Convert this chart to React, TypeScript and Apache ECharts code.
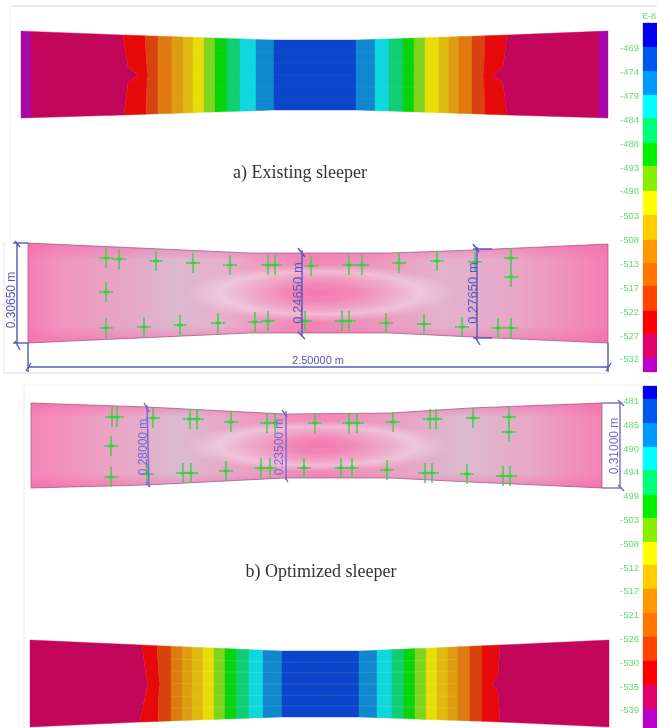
import React, { useEffect, useRef } from "react";
import * as echarts from "echarts";

type Pt = [number, number];
type Edge = number | number[];

// ---- sleeper outlines: [x, top, bottom]
const outlineExistingContour = [[21, 31, 118], [123, 35, 115], [275, 40, 110], [356, 40, 110], [507, 35, 115], [608, 31, 118]];
const outlineExistingPink = [[28, 243, 343], [250, 253, 333], [390, 253, 333], [473, 250, 337], [608, 244, 343]];
const outlineOptimizedPink = [[31, 403, 488], [147, 407, 485], [285, 414, 478], [390, 413, 478], [470, 408, 482], [602, 403, 488]];
const outlineOptimizedContour = [[30, 640, 727], [142, 645, 722], [282, 651, 717], [359, 651, 717], [500, 645, 722], [609, 640, 727]];

// ---- contour band colours, left to right
const bandColors = ["#c2065a", "#e60a0a", "#d8420f", "#de7a10", "#dd9c12", "#e0ba10", "#e8dc08", "#7ed41e", "#08d40c", "#10cf72", "#10d6de", "#1088d0", "#0a45cc"];
const purple = "#a808a8";

// band edges (x), each either straight or bent at five heights
const edgesExisting: Edge[] = [31, [123, 128, 138, 128, 124], [145, 147, 148, 147, 146], 158, 172, 183, 193, 204, 215, 227, 240, 256, 274, 356, 375, 389, 403, 414, 425, 439, 449, 459, 472, [485, 484, 483, 484, 485], [507, 503, 493, 503, 507], 599];
const edgesOptimized: Edge[] = [[142, 146, 148, 146, 140], [157, 159, 160, 159, 158], 171, 182, 192, 203, 214, 225, 236, 249, 263, 282, 359, 377, 392, 404, 415, 426, 437, 448, 458, 470, 482, [500, 498, 492, 498, 500]];

// ---- green plus marks
const crossesExisting: Pt[] = [[106, 258], [119, 259], [156, 261], [193, 263], [230, 265], [268, 265], [275, 265], [311, 266], [349, 265], [362, 265], [399, 263], [437, 261], [475, 262], [511, 258], [511, 277], [106, 292], [106, 328], [144, 327], [180, 325], [218, 323], [255, 322], [268, 321], [305, 321], [342, 321], [349, 321], [386, 323], [424, 324], [462, 327], [498, 328], [511, 328]];
const crossesOptimized: Pt[] = [[112, 417], [117, 417], [153, 418], [190, 419], [197, 419], [231, 422], [267, 423], [275, 423], [315, 423], [349, 423], [357, 423], [393, 422], [430, 419], [436, 419], [473, 418], [509, 417], [509, 432], [111, 446], [111, 477], [147, 474], [183, 473], [191, 473], [226, 471], [261, 468], [270, 468], [304, 468], [341, 468], [352, 468], [387, 470], [425, 473], [432, 473], [467, 474], [503, 476], [510, 476]];

// ---- pink field colours along the sleeper
const pinkExisting: [number, string][] = [[28, "#f57db3"], [60, "#f094bf"], [130, "#e5a8c8"], [175, "#dcb8cf"], [220, "#e7b0cb"], [260, "#ee9cc0"], [310, "#f184b6"], [370, "#ef93bd"], [440, "#e3b2cc"], [480, "#e5aece"], [520, "#e9a5c6"], [570, "#ef8fba"], [608, "#f47db2"]];
const pinkOptimized: [number, string][] = [[31, "#f585b8"], [100, "#ee9fc3"], [178, "#dcbad0"], [250, "#eb9fc3"], [320, "#f286b8"], [380, "#ec9bc0"], [463, "#dcbad0"], [530, "#e8a8c8"], [602, "#f382b5"]];
// centre glow boxes
const glowExisting: Pt[] = [[185, 264], [455, 264], [455, 322], [185, 322]];
const glowOptimized: Pt[] = [[185, 420], [450, 420], [450, 472], [185, 472]];

// ---- dimension lines: [x1, y1, x2, y2]
const dimsExisting = [[13, 243, 28, 243], [13, 343, 28, 343], [17, 243, 17, 343], [15, 341, 20, 350], [15, 241, 20, 247], [302, 250, 302, 336], [298, 248, 305, 257], [298, 332, 305, 339], [477, 247, 477, 340], [473, 249, 492, 249], [473, 338, 492, 338], [473, 244, 479, 252], [475, 337, 480, 345], [28, 343, 28, 372], [608, 343, 608, 372], [28, 367, 608, 367], [26, 371, 31, 363], [606, 371, 611, 363]];
const dimsOptimized = [[147, 405, 149, 487], [144, 403, 149, 412], [146, 482, 150, 487], [286, 411, 286, 480], [282, 410, 287, 417], [285, 477, 288, 482], [602, 403, 622, 403], [602, 488, 622, 488], [620, 403, 620, 488], [618, 400, 624, 406], [618, 485, 624, 491]];
const dimLabelsExisting: [string, number, number, number][] = [["0.30650 m", 11, 300, 12], ["0.24650 m", 297, 293, 13], ["0.27650 m", 472, 293, 13]];
const dimLabelsOptimized: [string, number, number, number][] = [["0.28000 m", 143, 447, 12], ["0.23500 m", 279, 447, 12], ["0.31000 m", 614, 446, 12]];

// ---- frames
const frames = [[10, 6, 657, 6, "#d6d6d6"], [10, 6, 10, 242, "#ececec"], [4, 242, 4, 373, "#e4e4e4"], [4, 373, 610, 373, "#dcdcdc"], [24, 385, 24, 728, "#ececec"], [24, 385, 640, 385, "#f2f2f2"]];

// ---- colour bars
const barColors = ["#0000ee", "#0055ee", "#0099ff", "#00ffff", "#00ff77", "#00f000", "#88ee00", "#ffff00", "#ffcc00", "#ff9900", "#ff7700", "#ff4400", "#ff0000", "#e0006a", "#b800c8"];
const barEdgesTop = [23, 47, 71, 95, 118, 143, 166, 191, 215, 240, 263, 286, 311, 334, 358, 372];
const barEdgesBottom = [386, 399, 423, 447, 470, 495, 518, 542, 565, 589, 613, 637, 661, 685, 709, 728];
const ticksTop = ["-469", "-474", "-479", "-484", "-488", "-493", "-498", "-503", "-508", "-513", "-517", "-522", "-527", "-532"];
const ticksTopY = [47, 71, 95, 119, 143, 167, 190, 215, 239, 263, 287, 311, 335, 358];
const ticksBottom = ["481", "485", "490", "494", "499", "-503", "-508", "-512", "-517", "-521", "-526", "-530", "-535", "-539"];
const ticksBottomY = [400, 424, 448, 471, 495, 519, 543, 567, 590, 614, 638, 662, 686, 709];

const captionA = "a) Existing sleeper";
const captionB = "b) Optimized sleeper";

// ---- helpers
const FRACS = [0, 0.4, 0.5, 0.6, 1];
function edgeAt(outline: number[][], x: number): [number, number] {
  for (let i = 0; i < outline.length - 1; i++) {
    const a = outline[i], b = outline[i + 1];
    if (x <= b[0]) {
      const t = (x - a[0]) / (b[0] - a[0]);
      return [a[1] + t * (b[1] - a[1]), a[2] + t * (b[2] - a[2])];
    }
  }
  const l = outline[outline.length - 1];
  return [l[1], l[2]];
}
function bandPolygon(outline: number[][], left: Edge, right: Edge): Pt[] {
  const xs = (e: Edge) => (Array.isArray(e) ? e : FRACS.map(() => e as number));
  const lx = xs(left), rx = xs(right);
  const pts: Pt[] = [];
  FRACS.forEach((f, i) => {
    const [t, b] = edgeAt(outline, lx[i]);
    pts.push([lx[i], t + f * (b - t)]);
  });
  outline.filter((o) => o[0] > lx[4] && o[0] < rx[4]).forEach((o) => pts.push([o[0], o[2]]));
  [...FRACS].reverse().forEach((f, k) => {
    const i = 4 - k;
    const [t, b] = edgeAt(outline, rx[i]);
    pts.push([rx[i], t + f * (b - t)]);
  });
  outline.filter((o) => o[0] > lx[0] && o[0] < rx[0]).reverse().forEach((o) => pts.push([o[0], o[1]]));
  return pts;
}
function outlinePolygon(outline: number[][]): Pt[] {
  return [...outline.map((o) => [o[0], o[1]] as Pt), ...[...outline].reverse().map((o) => [o[0], o[2]] as Pt)];
}

type Shape =
  | { kind: "poly"; points: Pt[]; fill?: any; stroke?: string; lineWidth?: number }
  | { kind: "line"; points: Pt[]; stroke: string; lineWidth: number; opacity?: number }
  | { kind: "text"; at: Pt; text: string; font: string; size: number; color: string; align?: string; rotate?: number };

function seriesOf(name: string, shapes: Shape[]) {
  return {
    type: "custom",
    name,
    coordinateSystem: "cartesian2d",
    silent: true,
    clip: false,
    data: shapes.map((_, i) => [i, 0]),
    encode: { x: 0, y: 1 },
    renderItem: (params: any, api: any) => {
      const s = shapes[params.dataIndex];
      if (s.kind === "text") {
        const [x, y] = api.coord(s.at);
        return {
          type: "text",
          x,
          y,
          rotation: s.rotate || 0,
          style: { text: s.text, fontFamily: s.font, fontSize: s.size, fill: s.color, align: s.align || "center", verticalAlign: "middle" },
        };
      }
      const pts = s.points.map((p) => api.coord(p));
      if (s.kind === "line") {
        return { type: "polyline", shape: { points: pts }, style: { stroke: s.stroke, lineWidth: s.lineWidth, fill: "none", opacity: s.opacity ?? 1 } };
      }
      return { type: "polygon", shape: { points: pts }, style: { fill: s.fill, stroke: s.stroke || "none", lineWidth: s.lineWidth || 0 } };
    },
  };
}

function contourShapes(outline: number[][], edges: Edge[], leading: string | null, trailing: string | null, meshFrom: number, meshTo: number, meshAlpha: number): Shape[] {
  const out: Shape[] = [];
  const x0 = outline[0][0], x1 = outline[outline.length - 1][0];
  const all: Edge[] = [x0, ...edges, x1];
  const n = all.length - 1;
  const half = (n - (leading ? 1 : 0) - (trailing ? 1 : 0) + 1) / 2;
  for (let i = 0; i < n; i++) {
    let color: string;
    const j = i - (leading ? 1 : 0);
    if (leading && i === 0) color = leading;
    else if (trailing && i === n - 1) color = trailing;
    else {
      const idx = j < half ? j : 2 * (half - 1) - j;
      color = bandColors[idx];
    }
    out.push({ kind: "poly", points: bandPolygon(outline, all[i], all[i + 1]), fill: color, stroke: color, lineWidth: 0.4 });
  }
  [0.17, 0.33, 0.5, 0.67, 0.83].forEach((f) => {
    const pts: Pt[] = [];
    for (const x of [meshFrom, 275, 356, meshTo]) {
      const [t, b] = edgeAt(outline, x);
      pts.push([x, t + f * (b - t)]);
    }
    out.push({ kind: "line", points: pts, stroke: "#fff6a0", lineWidth: 0.7, opacity: meshAlpha });
  });
  return out;
}

function pinkShapes(outline: number[][], stops: [number, string][], glow: Pt[], dims: number[][], dimColor: string, labels: [string, number, number, number][], crosses: Pt[]): Shape[] {
  const x0 = outline[0][0], x1 = outline[outline.length - 1][0];
  const poly = outlinePolygon(outline);
  const ramp = new echarts.graphic.LinearGradient(0, 0, 1, 0, stops.map(([x, color]) => ({ offset: (x - x0) / (x1 - x0), color })));
  const rim = new echarts.graphic.LinearGradient(0, 0, 0, 1, [
    { offset: 0, color: "rgba(246,105,168,0.6)" },
    { offset: 0.09, color: "rgba(246,105,168,0.3)" },
    { offset: 0.17, color: "rgba(246,105,168,0)" },
    { offset: 0.83, color: "rgba(246,105,168,0)" },
    { offset: 0.91, color: "rgba(246,105,168,0.3)" },
    { offset: 1, color: "rgba(246,105,168,0.6)" },
  ]);
  const core = new echarts.graphic.RadialGradient(0.5, 0.5, 0.5, [
    { offset: 0, color: "rgba(246,115,172,0.7)" },
    { offset: 0.28, color: "rgba(244,130,182,0.5)" },
    { offset: 0.5, color: "rgba(240,185,210,0.4)" },
    { offset: 0.74, color: "rgba(242,220,232,0.6)" },
    { offset: 1, color: "rgba(240,215,228,0)" },
  ]);
  const out: Shape[] = [
    { kind: "poly", points: poly, fill: ramp },
    { kind: "poly", points: glow, fill: core },
    { kind: "poly", points: poly, fill: rim, stroke: "rgba(150,80,125,0.75)", lineWidth: 0.9 },
  ];
  crosses.forEach(([x, y]) => {
    out.push({ kind: "line", points: [[x, y - 10], [x, y + 10]], stroke: "#38d244", lineWidth: 1.5, opacity: 0.95 });
    out.push({ kind: "line", points: [[x - 7, y], [x + 7, y]], stroke: "#38d244", lineWidth: 1.5, opacity: 0.95 });
    out.push({ kind: "line", points: [[x - 2.5, y], [x + 2.5, y]], stroke: "#2ed23c", lineWidth: 2.4 });
  });
  dims.forEach((d) => out.push({ kind: "line", points: [[d[0], d[1]], [d[2], d[3]]], stroke: dimColor, lineWidth: 1.4 }));
  labels.forEach(([text, x, y, size]) =>
    out.push({ kind: "text", at: [x, y], text, font: "Liberation Sans", size, color: dimColor, rotate: Math.PI / 2 })
  );
  return out;
}

function barShapes(edges: number[], ticks: string[], ticksY: number[]): Shape[] {
  const out: Shape[] = barColors.map((fill, i) => ({
    kind: "poly" as const,
    points: [[643, edges[i]], [657, edges[i]], [657, edges[i + 1]], [643, edges[i + 1]]] as Pt[],
    fill,
    stroke: fill,
    lineWidth: 0.3,
  }));
  ticks.forEach((t, i) =>
    out.push({ kind: "text", at: [639, ticksY[i]], text: t, font: "Liberation Sans", size: 9.5, color: "#62dc72", align: "right" })
  );
  return out;
}

export default function App() {
  const ref = useRef<HTMLDivElement | null>(null);
  useEffect(() => {
    document.body.style.margin = "0";
    document.body.style.background = "#ffffff";
    const chart = echarts.init(ref.current!, null, { renderer: "svg" });
    chart.setOption({
      animation: false,
      backgroundColor: "#ffffff",
      grid: { left: 0, right: 0, top: 0, bottom: 0 },
      xAxis: { type: "value", min: 0, max: 657, show: false },
      yAxis: { type: "value", min: 0, max: 728, inverse: true, show: false },
      series: [
        seriesOf("Frames", frames.map((f) => ({ kind: "line" as const, points: [[f[0], f[1]], [f[2], f[3]]] as Pt[], stroke: f[4] as string, lineWidth: 1 }))),
        seriesOf("Existing contour", contourShapes(outlineExistingContour, edgesExisting, purple, purple, 172, 459, 0.06)),
        seriesOf("Existing field", pinkShapes(outlineExistingPink, pinkExisting, glowExisting, dimsExisting, "#5458bb", dimLabelsExisting, crossesExisting)),
        seriesOf("Existing length", [{ kind: "text", at: [318, 360], text: "2.50000 m", font: "Liberation Sans", size: 11, color: "#5458bb" }]),
        seriesOf("Optimized field", pinkShapes(outlineOptimizedPink, pinkOptimized, glowOptimized, dimsOptimized, "#7268d4", dimLabelsOptimized, crossesOptimized)),
        seriesOf("Optimized contour", contourShapes(outlineOptimizedContour, edgesOptimized, null, null, 171, 458, 0.2)),
        seriesOf("Captions", [
          { kind: "text", at: [300, 172], text: captionA, font: "Liberation Serif", size: 18, color: "#333333" },
          { kind: "text", at: [321, 571], text: captionB, font: "Liberation Serif", size: 18, color: "#333333" },
        ]),
        seriesOf("Top colour bar", [
          ...barShapes(barEdgesTop, ticksTop, ticksTopY),
          { kind: "text", at: [649, 16], text: "E-8", font: "Liberation Sans", size: 9, color: "#62dc72" },
        ]),
        seriesOf("Bottom colour bar", barShapes(barEdgesBottom, ticksBottom, ticksBottomY)),
      ],
    });
    return () => chart.dispose();
  }, []);
  return <div ref={ref} style={{ position: "fixed", left: 0, top: 0, width: 657, height: 728, filter: "blur(0.7px)" }} />;
}
